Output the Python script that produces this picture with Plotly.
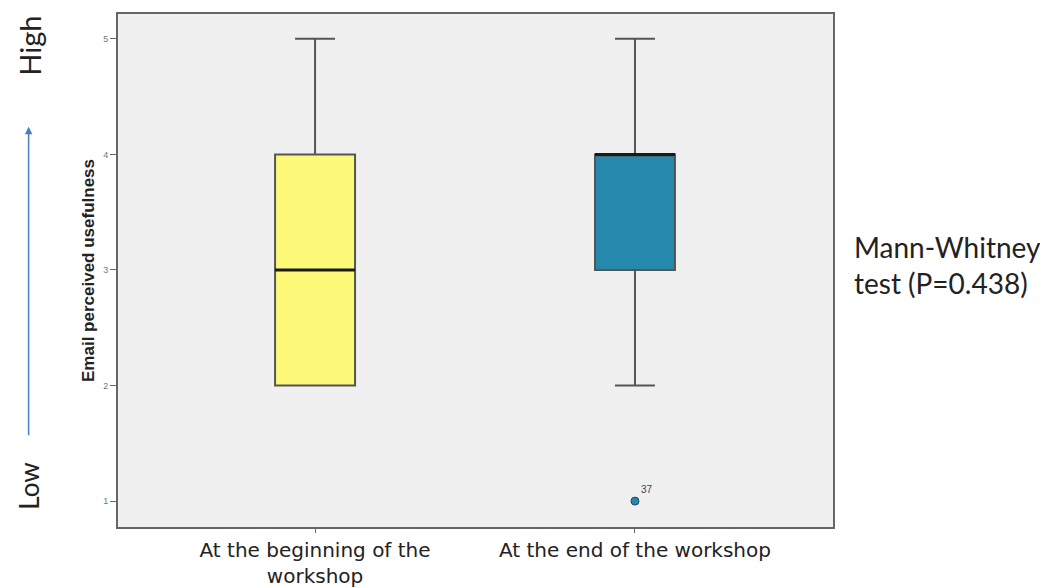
import plotly.graph_objects as go

categories = ["At the beginning of the<br>workshop", "At the end of the workshop"]
positions = [0, 1]
q1 = [2, 3]
median = [3, 4]
q3 = [4, 4]
lower = [2, 2]
upper = [5, 5]
box_colors = ["#FCFA78", "#2489AD"]
outlier_x = [1]
outlier_y = [1]
outlier_label = ["37"]
y_ticks = [1, 2, 3, 4, 5]
box_width = 0.25

fig = go.Figure()
for i in range(2):
    fig.add_trace(go.Box(
        x=[positions[i]], q1=[q1[i]], median=[median[i]], q3=[q3[i]],
        lowerfence=[lower[i]], upperfence=[upper[i]],
        width=box_width, whiskerwidth=0.5,
        fillcolor=box_colors[i],
        line=dict(color="#555555", width=2),
        showlegend=False, hoverinfo="skip",
    ))
    # emphasised median line
    fig.add_trace(go.Scatter(
        x=[positions[i] - box_width / 2, positions[i] + box_width / 2],
        y=[median[i], median[i]], mode="lines",
        line=dict(color="#1a1a1a", width=3),
        showlegend=False, hoverinfo="skip",
    ))

fig.add_trace(go.Scatter(
    x=outlier_x, y=outlier_y, mode="markers+text",
    marker=dict(color="#2489AD", size=8, line=dict(color="#1a4a5e", width=1)),
    text=outlier_label, textposition="top right",
    textfont=dict(size=10, color="#444", family="Arial"),
    showlegend=False, hoverinfo="skip",
))

fig.update_layout(
    width=1048, height=588,
    margin=dict(l=110, r=223, t=4, b=69),
    paper_bgcolor="white", plot_bgcolor="#F0F0F0",
    font=dict(family="Liberation Sans, Arial", color="#222"),
)
fig.update_xaxes(
    range=[-0.616, 1.619], tickvals=positions, ticktext=categories,
    showgrid=False, zeroline=False, showline=True, mirror=True,
    linecolor="#666", linewidth=2, ticks="outside", ticklen=4, tickcolor="#666",
    tickfont=dict(size=20, color="#222", family="DejaVu Sans"),
)
fig.update_yaxes(
    range=[0.776, 5.215], tickvals=y_ticks,
    showgrid=False, zeroline=False, showline=True, mirror=True,
    linecolor="#666", linewidth=2, ticks="outside", ticklen=6, tickcolor="#666",
    tickfont=dict(size=9, color="#777", family="Liberation Sans, Arial"),
    title=dict(text="<b>Email perceived usefulness</b>", standoff=4,
               font=dict(size=17, color="#222", family="Liberation Sans, Arial")),
)

fig.add_annotation(xref="paper", yref="paper", x=-0.125, y=0.78, ax=0, ay=310,
                   xanchor="center", showarrow=True, arrowhead=2, arrowsize=1,
                   arrowwidth=1.5, arrowcolor="#4A7EBB", text="",
                   axref="pixel", ayref="pixel")
fig.add_annotation(xref="paper", yref="paper", x=-0.125, y=1.0, text="High",
                   textangle=-90, showarrow=False, xanchor="center", yanchor="top",
                   font=dict(size=29, color="#222", family="Lato"))
fig.add_annotation(xref="paper", yref="paper", x=-0.125, y=0.03, text="Low",
                   textangle=-90, showarrow=False, xanchor="center", yanchor="bottom",
                   font=dict(size=26, color="#222", family="Lato"))
fig.add_annotation(xref="paper", yref="paper", x=1.027, y=0.51,
                   text="Mann-Whitney<br>test (P=0.438)", align="left",
                   showarrow=False, xanchor="left", yanchor="middle",
                   font=dict(size=28, color="#222", family="Lato"))

fig.write_html("out.html")
